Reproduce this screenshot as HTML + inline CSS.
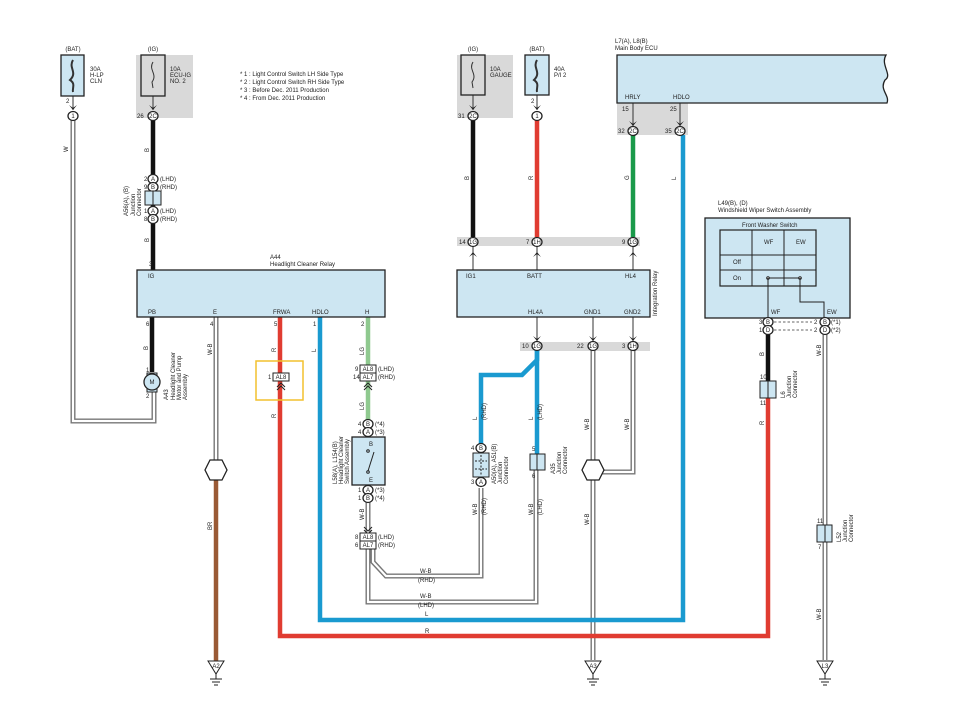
<!DOCTYPE html>
<html><head><meta charset="utf-8"><style>
body{margin:0;background:#fff}
svg{display:block;font-family:"Liberation Sans",sans-serif}
text{font-size:6px;fill:#222}
</style></head><body>
<svg width="960" height="720" viewBox="0 0 960 720">
<defs>
<g id="cn"><ellipse cx="0" cy="0" rx="5" ry="4.5" fill="#fff" stroke="#222" stroke-width="1.3"/></g>
<g id="ar"><path d="M-4,-5 L0,0 L4,-5 L0,-2 Z" fill="#222"/></g>
<g id="gnd"><path d="M-8,0 L8,0 L0,13 Z" fill="#fff" stroke="#222" stroke-width="1"/><line x1="0" y1="13" x2="0" y2="18" stroke="#222"/><line x1="-6" y1="18" x2="6" y2="18" stroke="#222"/><line x1="-4" y1="21" x2="4" y2="21" stroke="#222"/><line x1="-2" y1="24" x2="2" y2="24" stroke="#222"/></g>
</defs>

<!-- gray shaded backgrounds -->
<rect x="136" y="55" width="57" height="63" fill="#d9d9d9"/>
<rect x="457" y="55" width="56" height="63" fill="#d9d9d9"/>
<rect x="617" y="103" width="71" height="32" fill="#d9d9d9"/>
<rect x="457" y="237" width="183" height="9" fill="#d9d9d9"/>
<rect x="520" y="342" width="130" height="9" fill="#d9d9d9"/>

<!-- double (white) wires -->
<g fill="none" stroke="#777" stroke-width="5" stroke-linejoin="miter">
<polyline points="73,120 73,421 154,421 154,392"/>
<line x1="216" y1="317" x2="216" y2="462"/>
<polyline points="593,350 593,660"/>
<polyline points="633,350 633,472 601,472"/>
<line x1="368" y1="500" x2="368" y2="533"/>
<polyline points="368,549 368,602 536,602 536,470"/>
<polyline points="373,549 373,562 386,576 481,576 481,488"/>
<line x1="825" y1="334" x2="825" y2="660"/>
</g>
<g fill="none" stroke="#fff" stroke-width="2.2">
<polyline points="73,120 73,421 154,421 154,392"/>
<line x1="216" y1="317" x2="216" y2="462"/>
<polyline points="593,350 593,660"/>
<polyline points="633,350 633,472 601,472"/>
<line x1="368" y1="500" x2="368" y2="533"/>
<polyline points="368,549 368,602 536,602 536,470"/>
<polyline points="373,549 373,562 386,576 481,576 481,488"/>
<line x1="825" y1="334" x2="825" y2="660"/>
</g>

<!-- colored wires -->
<g fill="none" stroke-width="4.5">
<line x1="153" y1="120" x2="153" y2="270" stroke="#111"/>
<line x1="152" y1="317" x2="152" y2="372" stroke="#111"/>
<line x1="216" y1="478" x2="216" y2="661" stroke="#9a5a35"/>
<polyline points="280,317 280,636 768,636 768,398" stroke="#e03c31"/>
<polyline points="320,317 320,620 683,620 683,135" stroke="#1a9ad0"/>
<line x1="368" y1="317" x2="368" y2="420" stroke="#8fc98f"/>
<line x1="473" y1="120" x2="473" y2="237" stroke="#111"/>
<line x1="537" y1="120" x2="537" y2="237" stroke="#e03c31"/>
<line x1="633" y1="135" x2="633" y2="237" stroke="#1a9a4a"/>
<polyline points="537,350 537,360 522,375 481,375 481,445" stroke="#1a9ad0"/>
<line x1="537" y1="350" x2="537" y2="454" stroke="#1a9ad0"/>
<line x1="768" y1="334" x2="768" y2="381" stroke="#111"/>
</g>
<!-- thin wires -->
<g stroke="#333" stroke-width="1" fill="none">
<line x1="473" y1="246" x2="473" y2="270"/><line x1="537" y1="246" x2="537" y2="270"/><line x1="633" y1="246" x2="633" y2="270"/>
<line x1="537" y1="317" x2="537" y2="342"/><line x1="593" y1="317" x2="593" y2="342"/><line x1="633" y1="317" x2="633" y2="342"/>
<line x1="633" y1="103" x2="633" y2="126"/><line x1="680" y1="103" x2="680" y2="126"/>
<line x1="153" y1="92" x2="153" y2="110"/><line x1="473" y1="92" x2="473" y2="110"/><line x1="537" y1="92" x2="537" y2="110"/><line x1="73" y1="92" x2="73" y2="110"/>
</g>

<!-- fuses -->
<rect x="61" y="55" width="23" height="41" fill="#cde6f2" stroke="#222" stroke-width="1.3"/>
<path d="M73,60 C68,68 78,72 70,80 C76,84 72,88 73,92" stroke="#333" stroke-width="2" fill="none"/>
<rect x="141" y="55" width="24" height="41" fill="#d9d9d9" stroke="#222" stroke-width="1.3"/>
<path d="M153,62 C148,70 158,74 152,82 L153,88" stroke="#333" fill="none"/>
<rect x="461" y="55" width="24" height="40" fill="#d9d9d9" stroke="#222" stroke-width="1.3"/>
<path d="M473,62 C468,70 478,74 472,82 L473,88" stroke="#333" fill="none"/>
<rect x="525" y="55" width="24" height="40" fill="#cde6f2" stroke="#222" stroke-width="1.3"/>
<path d="M537,60 C532,68 542,72 534,80 C540,84 536,88 537,92" stroke="#333" stroke-width="2" fill="none"/>
<text x="73" y="51" text-anchor="middle">(BAT)</text>
<text x="153" y="51" text-anchor="middle">(IG)</text>
<text x="473" y="51" text-anchor="middle">(IG)</text>
<text x="537" y="51" text-anchor="middle">(BAT)</text>
<text x="90" y="71">30A</text><text x="90" y="77">H-LP</text><text x="90" y="83">CLN</text>
<text x="170" y="71">10A</text><text x="170" y="77">ECU-IG</text><text x="170" y="83">NO. 2</text>
<text x="490" y="71">10A</text><text x="490" y="77">GAUGE</text>
<text x="554" y="71">40A</text><text x="554" y="77">P/I 2</text>

<text x="240" y="76">* 1 : Light Control Switch LH Side Type</text>
<text x="240" y="84">* 2 : Light Control Switch RH Side Type</text>
<text x="240" y="92">* 3 : Before Dec.  2011 Production</text>
<text x="240" y="100">* 4 : From Dec.  2011 Production</text>

<!-- top connectors -->
<use href="#ar" x="73" y="110"/><use href="#cn" x="73" y="116"/><text x="73" y="118" text-anchor="middle">1</text><text x="66" y="103">2</text>
<use href="#ar" x="153" y="110"/><use href="#cn" x="153" y="116"/><text x="153" y="118" text-anchor="middle">2C</text><text x="137" y="118">26</text>
<use href="#ar" x="473" y="110"/><use href="#cn" x="473" y="116"/><text x="473" y="118" text-anchor="middle">2C</text><text x="458" y="118">31</text>
<use href="#ar" x="537" y="110"/><use href="#cn" x="537" y="116"/><text x="537" y="118" text-anchor="middle">1</text><text x="531" y="103">2</text>
<use href="#ar" x="633" y="126"/><use href="#cn" x="633" y="131"/><text x="633" y="133" text-anchor="middle">2C</text><text x="618" y="133">32</text><text x="622" y="111">15</text>
<use href="#ar" x="680" y="126"/><use href="#cn" x="680" y="131"/><text x="680" y="133" text-anchor="middle">2C</text><text x="665" y="133">35</text><text x="670" y="111">25</text>

<!-- Main body ECU -->
<path d="M617,55 L886,55 C880,65 893,75 885,80 C879,90 890,95 887,103 L688,103 L688,103 L617,103 Z" fill="#cde6f2" stroke="#222" stroke-width="1.3"/>
<text x="615" y="43">L7(A), L8(B)</text><text x="615" y="50">Main Body ECU</text>
<text x="625" y="99">HRLY</text><text x="673" y="99">HDLO</text>

<!-- A56 junction -->
<use href="#cn" x="153" y="179"/><text x="153" y="181" text-anchor="middle">A</text>
<use href="#cn" x="153" y="187"/><text x="153" y="189" text-anchor="middle">B</text>
<rect x="145" y="191" width="16" height="14" fill="#cde6f2" stroke="#222"/><line x1="153" y1="191" x2="153" y2="205" stroke="#222"/>
<use href="#cn" x="153" y="211"/><text x="153" y="213" text-anchor="middle">A</text>
<use href="#cn" x="153" y="219"/><text x="153" y="221" text-anchor="middle">B</text>
<text x="144" y="181">2</text><text x="144" y="189">9</text><text x="144" y="213">1</text><text x="144" y="221">8</text>
<text x="160" y="181">(LHD)</text><text x="160" y="189">(RHD)</text><text x="160" y="213">(LHD)</text><text x="160" y="221">(RHD)</text>
<text transform="translate(128,216) rotate(-90)">A56(A), (B)</text>
<text transform="translate(135,216) rotate(-90)">Junction</text>
<text transform="translate(141,216) rotate(-90)">Connector</text>
<text x="149" y="152" transform="rotate(-90 149 152)">B</text>
<text x="149" y="242" transform="rotate(-90 149 242)">B</text>
<text x="68" y="152" transform="rotate(-90 68 152)">W</text>

<!-- A44 relay -->
<rect x="137" y="270" width="248" height="47" fill="#cde6f2" stroke="#222" stroke-width="1.3"/>
<text x="270" y="259">A44</text><text x="270" y="266">Headlight Cleaner Relay</text>
<text x="149" y="266">3</text>
<text x="148" y="278">IG</text><text x="148" y="314">PB</text><text x="213" y="314">E</text><text x="273" y="314">FRWA</text><text x="312" y="314">HDLO</text><text x="365" y="314">H</text>
<text x="146" y="326">6</text><text x="210" y="326">4</text><text x="274" y="326">5</text><text x="313" y="326">1</text><text x="361" y="326">2</text>

<!-- motor -->
<rect x="147" y="373" width="10" height="19" fill="#cde6f2" stroke="#222"/>
<circle cx="152" cy="382" r="8" fill="#cde6f2" stroke="#222" stroke-width="1.3"/>
<text x="152" y="384" text-anchor="middle">M</text>
<text x="146" y="372">1</text><text x="146" y="398">2</text>
<text transform="translate(168,400) rotate(-90)">A43</text>
<text transform="translate(175,400) rotate(-90)">Headlight Cleaner</text>
<text transform="translate(181,400) rotate(-90)">Motor and Pump</text>
<text transform="translate(187,400) rotate(-90)">Assembly</text>
<text x="148" y="350" transform="rotate(-90 148 350)">B</text>

<!-- E hexagon and grounds -->
<polygon points="210,460 222,460 227,470 222,480 210,480 205,470" fill="#fff" stroke="#222" stroke-width="1.3"/>
<polygon points="587,460 599,460 604,470 599,480 587,480 582,470" fill="#fff" stroke="#222" stroke-width="1.3"/>
<use href="#gnd" x="216" y="661"/><text x="216" y="668" text-anchor="middle">A2</text>
<use href="#gnd" x="593" y="661"/><text x="593" y="668" text-anchor="middle">A3</text>
<use href="#gnd" x="825" y="661"/><text x="825" y="668" text-anchor="middle">L3</text>
<text x="212" y="355" transform="rotate(-90 212 355)">W-B</text>
<text x="212" y="530" transform="rotate(-90 212 530)">BR</text>

<!-- FRWA -->
<rect x="256" y="361" width="47" height="39" fill="none" stroke="#f2c12e" stroke-width="1.5"/>
<rect x="273" y="373" width="16" height="8" fill="#fff" stroke="#222"/><text x="281" y="379" text-anchor="middle">AL8</text><text x="268" y="379">1</text>
<path d="M277,387 L281,383 L285,387 M277,390 L281,386 L285,390" stroke="#222" fill="none"/>
<text x="276" y="352" transform="rotate(-90 276 352)">R</text>
<text x="276" y="418" transform="rotate(-90 276 418)">R</text>
<text x="316" y="352" transform="rotate(-90 316 352)">L</text>
<text x="425" y="616">L</text><text x="425" y="633">R</text>

<!-- H / switch -->
<rect x="360" y="365" width="16" height="8" fill="#fff" stroke="#222"/><text x="368" y="371" text-anchor="middle">AL8</text>
<rect x="360" y="373" width="16" height="8" fill="#fff" stroke="#222"/><text x="368" y="379" text-anchor="middle">AL7</text>
<text x="355" y="371">9</text><text x="353" y="379">14</text><text x="378" y="371">(LHD)</text><text x="378" y="379">(RHD)</text>
<path d="M364,387 L368,383 L372,387 M364,390 L368,386 L372,390" stroke="#222" fill="none"/>
<text x="364" y="355" transform="rotate(-90 364 355)">LG</text>
<text x="364" y="410" transform="rotate(-90 364 410)">LG</text>
<use href="#cn" x="368" y="424"/><text x="368" y="426" text-anchor="middle">B</text>
<use href="#cn" x="368" y="432"/><text x="368" y="434" text-anchor="middle">A</text>
<text x="358" y="426">4</text><text x="358" y="434">4</text><text x="375" y="426">(*4)</text><text x="375" y="434">(*3)</text>
<rect x="352" y="437" width="33" height="48" fill="#cde6f2" stroke="#222" stroke-width="1.3"/>
<text x="369" y="446">B</text><text x="369" y="482">E</text>
<circle cx="368" cy="451" r="1.3" fill="none" stroke="#222"/><circle cx="368" cy="472" r="1.3" fill="none" stroke="#222"/>
<line x1="368" y1="471" x2="374" y2="452" stroke="#222"/>
<use href="#cn" x="368" y="490"/><text x="368" y="492" text-anchor="middle">A</text>
<use href="#cn" x="368" y="498"/><text x="368" y="500" text-anchor="middle">B</text>
<text x="358" y="492">1</text><text x="358" y="500">1</text><text x="375" y="492">(*3)</text><text x="375" y="500">(*4)</text>
<text transform="translate(337,484) rotate(-90)">L58(A), L154(B)</text>
<text transform="translate(343,484) rotate(-90)">Headlight Cleaner</text>
<text transform="translate(349,484) rotate(-90)">Switch Assembly</text>
<text x="364" y="520" transform="rotate(-90 364 520)">W-B</text>
<path d="M364,527 L368,531 L372,527 M364,530 L368,534 L372,530" stroke="#222" fill="none"/>
<rect x="360" y="533" width="16" height="8" fill="#fff" stroke="#222"/><text x="368" y="539" text-anchor="middle">AL8</text>
<rect x="360" y="541" width="16" height="8" fill="#fff" stroke="#222"/><text x="368" y="547" text-anchor="middle">AL7</text>
<text x="355" y="539">8</text><text x="355" y="547">6</text><text x="378" y="539">(LHD)</text><text x="378" y="547">(RHD)</text>
<text x="420" y="573">W-B</text><text x="418" y="582">(RHD)</text>
<text x="420" y="598">W-B</text><text x="418" y="607">(LHD)</text>

<!-- Integration relay -->
<rect x="457" y="270" width="193" height="47" fill="#cde6f2" stroke="#222" stroke-width="1.3"/>
<text transform="translate(657,316) rotate(-90)">Integration Relay</text>
<text x="466" y="278">IG1</text><text x="527" y="278">BATT</text><text x="625" y="278">HL4</text>
<text x="528" y="314">HL4A</text><text x="584" y="314">GND1</text><text x="624" y="314">GND2</text>
<use href="#cn" x="473" y="242"/><text x="473" y="244" text-anchor="middle">1G</text><text x="459" y="244">14</text>
<use href="#cn" x="537" y="242"/><text x="537" y="244" text-anchor="middle">1H</text><text x="526" y="244">7</text>
<use href="#cn" x="633" y="242"/><text x="633" y="244" text-anchor="middle">1G</text><text x="622" y="244">9</text>
<g transform="rotate(180 473 252)"><use href="#ar" x="473" y="252"/></g>
<g transform="rotate(180 537 252)"><use href="#ar" x="537" y="252"/></g>
<g transform="rotate(180 633 252)"><use href="#ar" x="633" y="252"/></g>
<use href="#ar" x="537" y="341"/><use href="#ar" x="593" y="341"/><use href="#ar" x="633" y="341"/>
<use href="#cn" x="537" y="346"/><text x="537" y="348" text-anchor="middle">1G</text><text x="522" y="348">10</text>
<use href="#cn" x="593" y="346"/><text x="593" y="348" text-anchor="middle">1G</text><text x="577" y="348">22</text>
<use href="#cn" x="633" y="346"/><text x="633" y="348" text-anchor="middle">1H</text><text x="622" y="348">3</text>
<text x="469" y="180" transform="rotate(-90 469 180)">B</text>
<text x="533" y="180" transform="rotate(-90 533 180)">R</text>
<text x="629" y="180" transform="rotate(-90 629 180)">G</text>
<text x="676" y="180" transform="rotate(-90 676 180)">L</text>

<!-- A50 / A35 -->
<use href="#cn" x="481" y="448"/><text x="481" y="450" text-anchor="middle">B</text><text x="471" y="450">4</text>
<rect x="473" y="453" width="16" height="24" fill="#cde6f2" stroke="#222"/>
<path d="M481,455 V475 M475,461 H487 M475,469 H487" stroke="#222" stroke-dasharray="2,1.5"/>
<use href="#cn" x="481" y="482"/><text x="481" y="484" text-anchor="middle">A</text><text x="471" y="484">3</text>
<text transform="translate(496,484) rotate(-90)">A50(A), A51(B)</text>
<text transform="translate(502,484) rotate(-90)">Junction</text>
<text transform="translate(508,484) rotate(-90)">Connector</text>
<rect x="530" y="454" width="15" height="16" fill="#cde6f2" stroke="#222"/><line x1="537" y1="454" x2="537" y2="470" stroke="#222"/>
<text x="532" y="451">5</text><text x="532" y="478">6</text>
<text transform="translate(555,474) rotate(-90)">A35</text>
<text transform="translate(561,474) rotate(-90)">Junction</text>
<text transform="translate(567,474) rotate(-90)">Connector</text>
<text x="477" y="420" transform="rotate(-90 477 420)">L</text><text x="486" y="420" transform="rotate(-90 486 420)">(RHD)</text>
<text x="533" y="420" transform="rotate(-90 533 420)">L</text><text x="542" y="420" transform="rotate(-90 542 420)">(LHD)</text>
<text x="477" y="515" transform="rotate(-90 477 515)">W-B</text><text x="486" y="515" transform="rotate(-90 486 515)">(RHD)</text>
<text x="533" y="515" transform="rotate(-90 533 515)">W-B</text><text x="542" y="515" transform="rotate(-90 542 515)">(LHD)</text>
<text x="589" y="430" transform="rotate(-90 589 430)">W-B</text>
<text x="629" y="430" transform="rotate(-90 629 430)">W-B</text>
<text x="589" y="525" transform="rotate(-90 589 525)">W-B</text>

<!-- Wiper switch -->
<text x="718" y="205">L49(B), (D)</text><text x="718" y="212">Windshield Wiper Switch Assembly</text>
<rect x="705" y="218" width="145" height="100" fill="#cde6f2" stroke="#222" stroke-width="1.3"/>
<text x="742" y="227">Front Washer Switch</text>
<rect x="720" y="230" width="96" height="56" fill="none" stroke="#222" stroke-width="1.2"/>
<path d="M752,230 V286 M784,230 V286 M720,255 H816 M720,270 H816" stroke="#222" stroke-width="1"/>
<text x="764" y="244">WF</text><text x="796" y="244">EW</text><text x="733" y="264">Off</text><text x="733" y="280">On</text>
<line x1="768" y1="278" x2="800" y2="278" stroke="#222"/>
<circle cx="768" cy="278" r="1.3" fill="#fff" stroke="#222"/><circle cx="800" cy="278" r="1.3" fill="#fff" stroke="#222"/>
<polyline points="768,278 768,318" stroke="#222" fill="none"/>
<polyline points="800,278 800,302 824,302 824,318" stroke="#222" fill="none"/>
<text x="771" y="314">WF</text><text x="827" y="314">EW</text>
<use href="#cn" x="768" y="322"/><text x="768" y="324" text-anchor="middle">B</text><text x="759" y="324">3</text>
<use href="#cn" x="768" y="330"/><text x="768" y="332" text-anchor="middle">D</text><text x="759" y="332">1</text>
<use href="#cn" x="825" y="322"/><text x="825" y="324" text-anchor="middle">B</text><text x="814" y="324">2</text><text x="831" y="324">(*1)</text>
<use href="#cn" x="825" y="330"/><text x="825" y="332" text-anchor="middle">D</text><text x="814" y="332">2</text><text x="831" y="332">(*2)</text>
<path d="M774,322 H812 M774,330 H812" stroke="#333" stroke-dasharray="2.5,2" stroke-width="0.8"/>
<text x="764" y="356" transform="rotate(-90 764 356)">B</text>
<text x="821" y="356" transform="rotate(-90 821 356)">W-B</text>
<text x="764" y="425" transform="rotate(-90 764 425)">R</text>
<text x="821" y="620" transform="rotate(-90 821 620)">W-B</text>
<rect x="760" y="381" width="16" height="17" fill="#cde6f2" stroke="#222"/><line x1="768" y1="381" x2="768" y2="398" stroke="#222"/>
<text x="760" y="379">10</text><text x="760" y="405">11</text>
<text transform="translate(785,398) rotate(-90)">L6</text>
<text transform="translate(791,398) rotate(-90)">Junction</text>
<text transform="translate(797,398) rotate(-90)">Connector</text>
<rect x="817" y="525" width="15" height="17" fill="#cde6f2" stroke="#222"/><line x1="825" y1="525" x2="825" y2="542" stroke="#222"/>
<text x="817" y="523">11</text><text x="818" y="549">7</text>
<text transform="translate(841,542) rotate(-90)">L52</text>
<text transform="translate(847,542) rotate(-90)">Junction</text>
<text transform="translate(853,542) rotate(-90)">Connector</text>
</svg>
</body></html>
